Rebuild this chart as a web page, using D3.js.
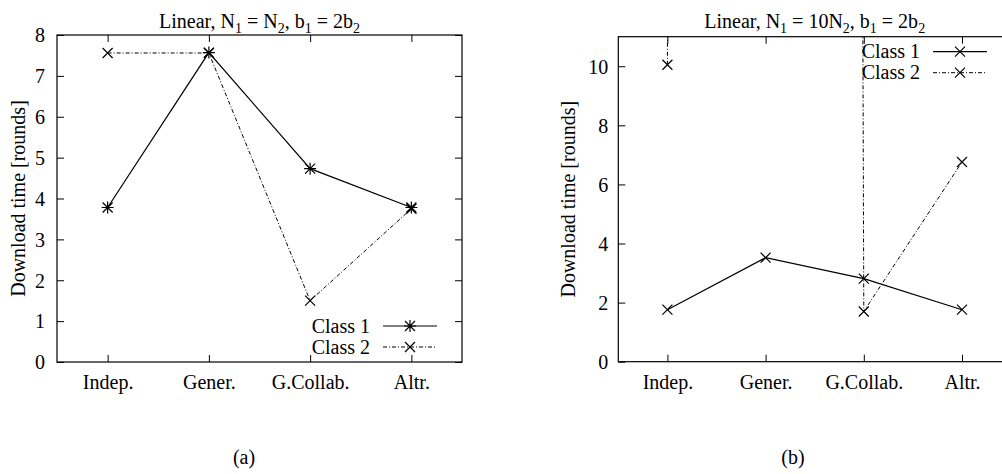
<!DOCTYPE html>
<html lang="en">
<head>
  <meta charset="UTF-8">
  <title>Download time by strategy</title>
  <script src="https://d3js.org/d3.v7.min.js"></script>
  <style>
    body { margin: 0; background: #fff; }
    svg text { font-family: "Liberation Serif", "Times New Roman", serif; fill: #000; }
    .frame { fill: none; stroke: #000; stroke-width: 1.2px; }
    .tick line { stroke: #000; stroke-width: 1px; }
    .line1 { fill: none; stroke: #000; stroke-width: 1.2px; }
    .line2 { fill: none; stroke: #000; stroke-width: 1px; stroke-dasharray: 4,2,1,2; }
    .mark { stroke: #000; stroke-width: 1.2px; fill: none; }
  </style>
</head>
<body>
  <svg width="1002" height="474"></svg>

  <script>
    // categories and values
    const categories = ["Indep.", "Gener.", "G.Collab.", "Altr."];
    const seriesNames = ["Class 1", "Class 2"];

    // panel (a): N1 = N2
    const aClass1 = [3.78, 7.57, 4.73, 3.78];
    const aClass2 = [7.56, 7.56, 1.50, 3.75];
    const aTicks = [0, 1, 2, 3, 4, 5, 6, 7, 8];

    // panel (b): N1 = 10 N2 (Gener. class 2 is far off the top of the plot)
    const bClass1 = [1.76, 3.52, 2.81, 1.76];
    const bClass2 = [10.05, 1000, 1.70, 6.76];
    const bTicks = [0, 2, 4, 6, 8, 10];

    const svg = d3.select("svg");

    // title pieces: [text, isSubscript]
    const titleA = [["Linear, N", 0], ["1", 1], [" = N", 0], ["2", 1], [", b", 0], ["1", 1], [" = 2b", 0], ["2", 1]];
    const titleB = [["Linear, N", 0], ["1", 1], [" = 10N", 0], ["2", 1], [", b", 0], ["1", 1], [" = 2b", 0], ["2", 1]];

    const panels = [
      { id: "a", left: 57, right: 462, top: 35, bottom: 362, ymax: 8, ticks: aTicks,
        s1: aClass1, s2: aClass2, m1: "star", m2: "cross", title: titleA, caption: "(a)",
        ylabX: 25, tickPad: 12, legX: 370, legY: 326, legLine: [383, 437], capX: 244 },
      { id: "b", left: 618.3, right: 1011.1, top: 36.7, bottom: 361.7, ymax: 11, ticks: bTicks,
        s1: bClass1, s2: bClass2, m1: "cross", m2: "cross", title: titleB, caption: "(b)",
        ylabX: 575, tickPad: 10, legX: 920, legY: 51.7, legLine: [933, 987], capX: 793 }
    ];

    function drawMarker(g, type, x, y) {
      const r = 5;
      const p = d3.path();
      p.moveTo(x - r, y - r); p.lineTo(x + r, y + r);
      p.moveTo(x - r, y + r); p.lineTo(x + r, y - r);
      if (type === "star") {
        p.moveTo(x, y - r - 1); p.lineTo(x, y + r + 1);
        p.moveTo(x - r - 1, y); p.lineTo(x + r + 1, y);
      }
      g.append("path").attr("class", "mark").attr("d", p.toString());
    }

    panels.forEach(P => {
      const x = d3.scalePoint().domain(categories).range([P.left, P.right]).padding(0.5);
      const y = d3.scaleLinear().domain([0, P.ymax]).range([P.bottom, P.top]);
      const g = svg.append("g").attr("class", "panel-" + P.id);

      // axes with inward ticks on all four sides
      const gl = g.append("g").attr("transform", `translate(${P.left},0)`)
        .call(d3.axisLeft(y).tickValues(P.ticks).tickSize(-7).tickPadding(P.tickPad).tickFormat(d3.format("d")));
      const gr = g.append("g").attr("transform", `translate(${P.right},0)`)
        .call(d3.axisRight(y).tickValues(P.ticks).tickSize(-7).tickFormat(""));
      const gb = g.append("g").attr("transform", `translate(0,${P.bottom})`)
        .call(d3.axisBottom(x).tickSize(-7).tickPadding(13));
      const gt = g.append("g").attr("transform", `translate(0,${P.top})`)
        .call(d3.axisTop(x).tickSize(-7).tickFormat(""));
      [gl, gr, gb, gt].forEach(a => {
        a.attr("font-family", null);
        a.select(".domain").remove();
        a.selectAll("text").style("font-size", "20px");
      });
      gl.selectAll("text").attr("dy", "0.34em");

      g.append("rect").attr("class", "frame")
        .attr("x", P.left).attr("y", P.top)
        .attr("width", P.right - P.left).attr("height", P.bottom - P.top);

      // clip lines to plot area
      g.append("clipPath").attr("id", "clip-" + P.id)
        .append("rect").attr("x", P.left).attr("y", P.top)
        .attr("width", P.right - P.left).attr("height", P.bottom - P.top);
      const plot = g.append("g").attr("clip-path", `url(#clip-${P.id})`);

      const line = d3.line().x((d, i) => x(categories[i])).y(d => y(d));
      plot.append("path").attr("class", "line2").attr("d", line(P.s2));
      plot.append("path").attr("class", "line1").attr("d", line(P.s1));

      P.s1.forEach((v, i) => drawMarker(plot, P.m1, x(categories[i]), y(v)));
      P.s2.forEach((v, i) => drawMarker(plot, P.m2, x(categories[i]), y(v)));

      // title with subscripts
      const t = g.append("text").attr("x", (P.left + P.right) / 2).attr("y", 28)
        .attr("text-anchor", "middle").style("font-size", "20px");
      P.title.forEach(([s, sub], k) => {
        const ts = t.append("tspan").text(s);
        if (sub) ts.attr("dy", 5).style("font-size", "14px");
        else if (k > 0) ts.attr("dy", -5);
      });

      // y label
      g.append("text")
        .attr("transform", `translate(${P.ylabX},${(P.top + P.bottom) / 2}) rotate(-90)`)
        .attr("text-anchor", "middle").style("font-size", "20px")
        .text("Download time [rounds]");

      // legend
      seriesNames.forEach((name, i) => {
        const ly = P.legY + i * 21;
        g.append("text").attr("x", P.legX).attr("y", ly).attr("dy", "0.33em")
          .attr("text-anchor", "end").style("font-size", "20px").text(name);
        g.append("line").attr("class", i === 0 ? "line1" : "line2")
          .attr("x1", P.legLine[0]).attr("x2", P.legLine[1]).attr("y1", ly).attr("y2", ly);
        drawMarker(g, i === 0 ? P.m1 : P.m2, (P.legLine[0] + P.legLine[1]) / 2, ly);
      });

      // caption
      g.append("text").attr("x", P.capX).attr("y", 464).attr("text-anchor", "middle")
        .style("font-size", "20px").text(P.caption);
    });
  </script>
</body>
</html>
